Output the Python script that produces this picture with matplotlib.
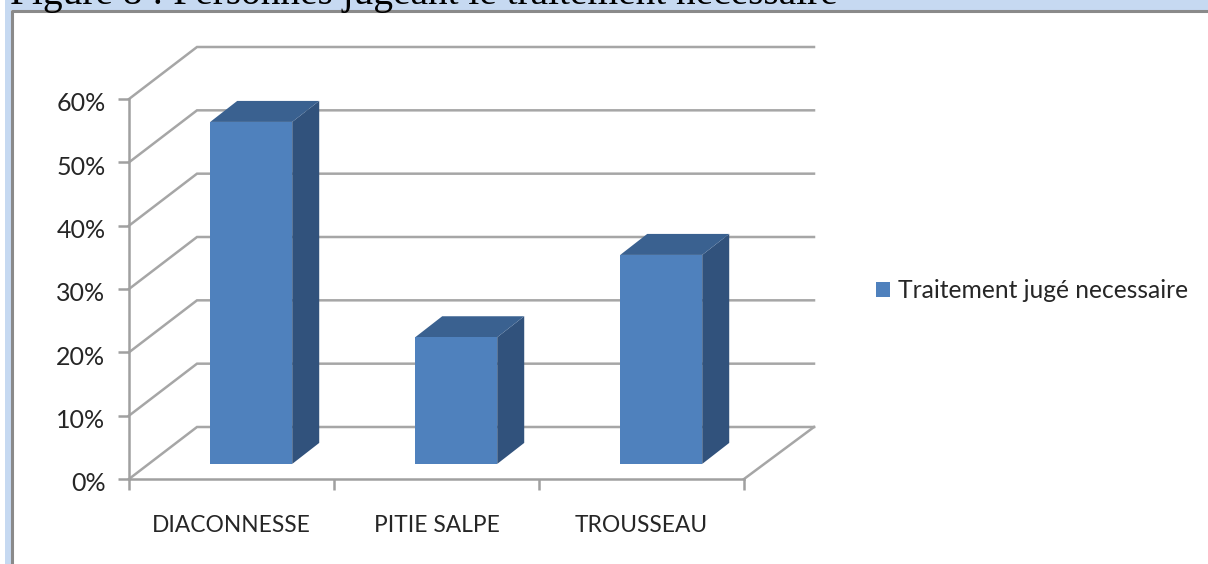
import matplotlib
matplotlib.use('Agg')
from matplotlib import pyplot as plt
from matplotlib.patches import Polygon, Rectangle
from matplotlib.transforms import ScaledTranslation

W, H = 1208, 564

# data
categories = ['DIACONNESSE', 'PITIE SALPE', 'TROUSSEAU']
values = [54, 20, 33]
yticks = [0, 10, 20, 30, 40, 50, 60]
series_name = 'Traitement jugé necessaire'
title = 'Figure 8 : Personnes jugeant le traitement nécessaire'

plt.rcParams['font.family'] = ['Lato', 'DejaVu Sans']

fig = plt.figure(figsize=(W / 100, H / 100), dpi=100, facecolor='white')

# cadre de la page
bg = fig.add_axes([0, 0, 1, 1])
bg.set_xlim(0, W)
bg.set_ylim(H, 0)
bg.axis('off')
bg.add_patch(Rectangle((5, 0), W - 5, 10, fc='#c6d9f1', ec='none'))
bg.add_patch(Rectangle((5, 0), 6, H, fc='#c6d9f1', ec='none'))
bg.plot([11.5, 11.5, W], [H, 10.5, 10.5], color='#8a8a8a', lw=2.2, solid_capstyle='butt')
bg.text(10, 4, title, family=['Liberation Serif'], fontsize=28.4, color='black',
        va='baseline', ha='left', clip_on=True)

# axes 2D, la profondeur est ajoutee a la main
ax = fig.add_axes([129 / W, 1 - 479 / H, (744 - 129) / W, (479 - 99) / H])
ax.set_xlim(0, 3)
ax.set_ylim(0, 60)
ax.patch.set_alpha(0)
for s in ['top', 'right']:
    ax.spines[s].set_visible(False)
for s in ['left', 'bottom']:
    ax.spines[s].set_color('#a0a0a0')
    ax.spines[s].set_linewidth(1.8)

# decalage du fond, en unites de donnees
dx = 68 / 205
dy = 52 / (380 / 60)
ext = 2 / 205

grid_c = '#a6a6a6'
for t in yticks:
    ax.plot([0, dx, 3 + dx + ext], [t, t + dy, t + dy], color=grid_c, lw=1.8, clip_on=False, zorder=1,
            solid_joinstyle='miter')
ax.plot([3, 3 + dx + ext], [0, dy], color=grid_c, lw=1.8, clip_on=False, zorder=1)

ax.set_yticks(yticks)
ax.set_yticklabels(['%d%%' % t for t in yticks])
ax.set_xticks([0, 1, 2, 3])
ax.set_xticklabels([])
ax.tick_params(axis='both', color='#a0a0a0', width=1.8, length=8, labelsize=18,
               labelcolor='#262626', pad=9)
ax.tick_params(axis='x', direction='out')
for lab in ax.get_yticklabels():
    lab.set_transform(lab.get_transform() + ScaledTranslation(0, -2 / 72, fig.dpi_scale_trans))

# barres
bar_w = 82 / 205
front = 0.29
depth = 27 / 68
fx = front * dx
fy = front * dy
bx = depth * dx
by = 21 / (380 / 60)
for i, (c, v) in enumerate(zip(categories, values)):
    x0 = i + 0.5 - bar_w / 2 + fx
    x1 = x0 + bar_w
    y0 = fy
    y1 = fy + v
    ax.add_patch(Polygon([(x1, y0), (x1 + bx, y0 + by), (x1 + bx, y1 + by), (x1, y1)],
                         fc='#31527c', ec='none', clip_on=False, zorder=3))
    ax.add_patch(Polygon([(x0, y1), (x1, y1), (x1 + bx, y1 + by), (x0 + bx, y1 + by)],
                         fc='#3a6190', ec='none', clip_on=False, zorder=3))
    ax.bar(x0, v, bottom=y0, width=bar_w, align='edge', color='#4f81bd', clip_on=False, zorder=4,
           label=series_name if i == 0 else None)
    ax.text(i + 0.5, -7.3, c, ha='center', va='center', fontsize=16.4, color='#262626')

handles, labels = ax.get_legend_handles_labels()
fig.legend(handles, labels, loc='center left', bbox_to_anchor=(876 / W, 1 - 291 / H), frameon=False,
           fontsize=17.7, handlelength=0.58, handleheight=0.58, handletextpad=0.3,
           labelcolor='#262626', borderpad=0, borderaxespad=0)

fig.savefig('out.png', dpi=100)
